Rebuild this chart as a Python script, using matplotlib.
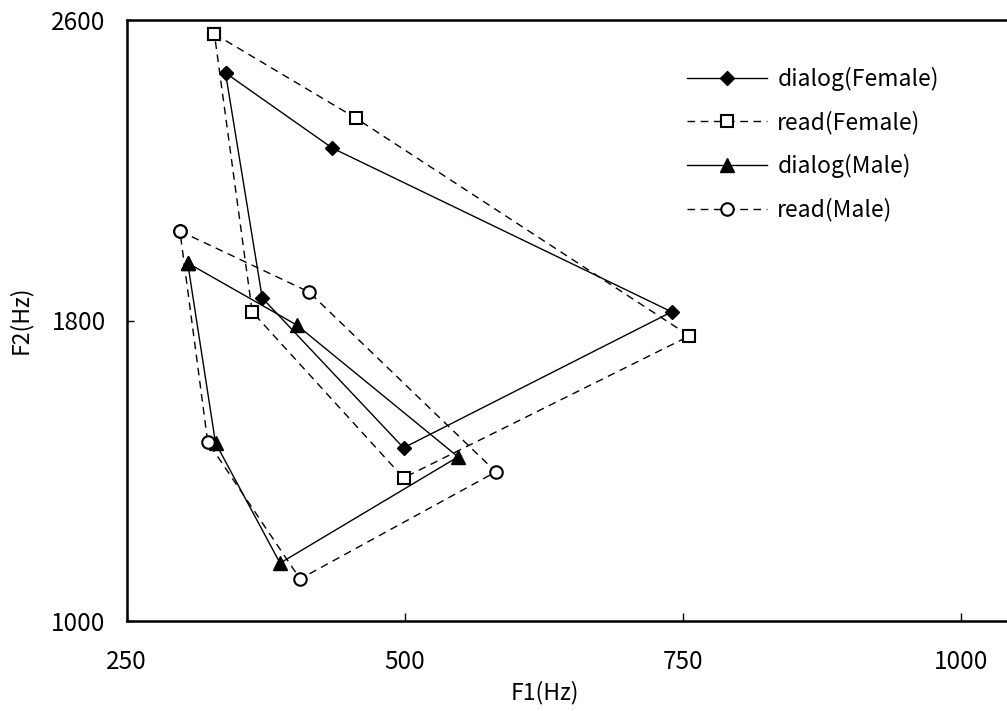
import matplotlib
matplotlib.use("Agg")
import matplotlib.pyplot as plt

plt.rcParams['font.family'] = ['Noto Sans CJK JP', 'DejaVu Sans']

# Vowel order along each polygon: i, e, a, o, u (closed back to i)
dialog_female_f1 = [339, 435, 740, 499, 372]
dialog_female_f2 = [2459, 2259, 1823, 1461, 1860]

read_female_f1 = [329, 456, 756, 499, 363]
read_female_f2 = [2563, 2339, 1759, 1381, 1823]

dialog_male_f1 = [305, 403, 548, 388, 330]
dialog_male_f2 = [1953, 1788, 1437, 1154, 1474]

read_male_f1 = [298, 414, 582, 406, 323]
read_male_f2 = [2038, 1876, 1397, 1112, 1477]

series_labels = ['dialog(Female)', 'read(Female)', 'dialog(Male)', 'read(Male)']
x_ticks = [250, 500, 750, 1000]
y_ticks = [1000, 1800, 2600]


def closed(v):
    return list(v) + [v[0]]


fig = plt.figure(figsize=(10.07, 7.11), dpi=100)
# axes extend beyond the right edge of the image (as in the reference crop)
ax = fig.add_axes([126.5 / 1007, 1 - 621 / 711, 1112.6 / 1007, 601 / 711])

dash = (5.5, 4)
ax.plot(closed(dialog_female_f1), closed(dialog_female_f2), color='black', lw=1.0,
        marker='D', ms=7, mfc='black', mec='black', label=series_labels[0])
ax.plot(closed(read_female_f1), closed(read_female_f2), color='black', lw=1.0,
        ls=(0, dash), marker='s', ms=8.5, mfc='white', mec='black', mew=1.5,
        label=series_labels[1])
ax.plot(closed(dialog_male_f1), closed(dialog_male_f2), color='black', lw=1.0,
        marker='^', ms=9.5, mfc='black', mec='black', label=series_labels[2])
ax.plot(closed(read_male_f1), closed(read_male_f2), color='black', lw=1.0,
        ls=(0, dash), marker='o', ms=9, mfc='white', mec='black', mew=1.5,
        label=series_labels[3])

ax.set_xlim(250, 1250)
ax.set_ylim(1000, 2600)
ax.set_xticks(x_ticks)
ax.set_yticks(y_ticks)
ax.tick_params(axis='x', direction='in', length=6, width=1, pad=20, labelsize=17.5)
ax.tick_params(axis='y', direction='in', length=5, width=1, pad=15, labelsize=17.5)
for s in ax.spines.values():
    s.set_linewidth(1.8)
ax.spines['right'].set_visible(False)

ax.set_xlabel('F1(Hz)', fontsize=16.5)
ax.set_ylabel('F2(Hz)', fontsize=16.5)
ax.xaxis.set_label_coords((545 - 126.5) / 1112.6, -(681 - 621) / 601)
ax.yaxis.set_label_coords(-(126.5 - 32) / 1112.6, (621 - 320) / 601)

leg = ax.legend(loc='upper left', bbox_to_anchor=(687 / 1007, 1 - 67 / 711),
                bbox_transform=fig.transFigure, frameon=False, fontsize=16.5,
                handlelength=3.5, handletextpad=0.44, labelspacing=0.86,
                borderpad=0, borderaxespad=0, numpoints=1)

fig.savefig('out.png', dpi=100)
